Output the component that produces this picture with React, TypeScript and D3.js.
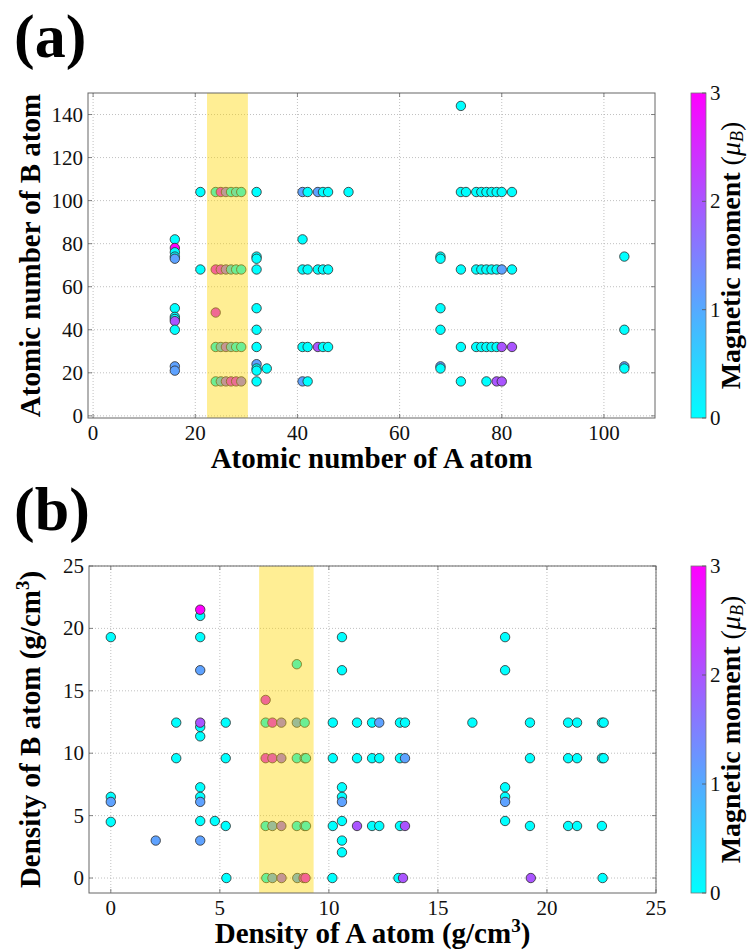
import * as d3 from 'd3'

const W = 748
const H = 951

// panel (a): [atomic number of A, atomic number of B, magnetic moment]
const atomicPoints: [number, number, number][] = [
  [16, 82, 0], [16, 78, 3.0], [16, 76, 0], [16, 74, 0.1], [16, 73, 1.1],
  [16, 50, 0], [16, 46, 0], [16, 45, 0], [16, 44, 2.0], [16, 40, 0],
  [16, 23, 1.1], [16, 21, 1.1],
  [21, 104, 0], [21, 68, 0],
  [24, 104, 0], [25, 104, 2.7], [26, 104, 1.7], [27, 104, 0], [28, 104, 0.3], [29, 104, 0],
  [24, 68, 2.8], [25, 68, 2.6], [26, 68, 1.8], [27, 68, 0.5], [28, 68, 0], [29, 68, 0],
  [24, 48, 2.7],
  [24, 32, 0], [25, 32, 0.8], [26, 32, 1.8], [27, 32, 0.7], [28, 32, 0], [29, 32, 0],
  [24, 16, 0], [25, 16, 0.8], [26, 16, 1.8], [27, 16, 2.6], [28, 16, 2.6], [29, 16, 1.7],
  [32, 104, 0], [32, 74, 0], [32, 73, 0], [32, 68, 0], [32, 50, 0], [32, 40, 0],
  [32, 32, 0], [32, 24, 1.1], [32, 22, 0], [32, 21, 0], [32, 16, 0], [34, 22, 0],
  [41, 104, 1.1], [42, 104, 0], [44, 104, 1.1], [45, 104, 0], [46, 104, 0], [50, 104, 0],
  [41, 82, 0],
  [41, 68, 0], [42, 68, 0], [44, 68, 0], [45, 68, 0], [46, 68, 0],
  [41, 32, 0], [42, 32, 0], [44, 32, 2.0], [45, 32, 0], [46, 32, 0],
  [41, 16, 1.1], [42, 16, 0],
  [68, 74, 0], [68, 73, 0], [68, 50, 0], [68, 40, 0], [68, 23, 1.1], [68, 22, 0],
  [72, 144, 0],
  [72, 104, 0], [73, 104, 0], [75, 104, 0], [76, 104, 0], [77, 104, 0], [78, 104, 0],
  [79, 104, 0], [80, 104, 0], [82, 104, 0],
  [72, 68, 0], [75, 68, 0], [76, 68, 0], [77, 68, 0], [78, 68, 0], [79, 68, 0],
  [80, 68, 1.1], [82, 68, 0],
  [72, 32, 0], [75, 32, 0], [76, 32, 0], [77, 32, 0], [78, 32, 0], [79, 32, 0],
  [80, 32, 2.0], [82, 32, 2.0],
  [72, 16, 0], [77, 16, 0], [79, 16, 2.0], [80, 16, 2.0],
  [104, 74, 0], [104, 40, 0], [104, 23, 1.1], [104, 22, 0],
]

// panel (b): [density of A, density of B, magnetic moment]
const densityPoints: [number, number, number][] = [
  [0, 19.3, 0], [0, 6.5, 0], [0, 6.1, 1.1], [0, 4.5, 0],
  [2.06, 3.0, 1.1],
  [3.0, 12.45, 0], [3.0, 9.6, 0],
  [4.1, 21.0, 0], [4.1, 21.5, 3.0], [4.1, 19.3, 0], [4.1, 16.65, 1.1], [4.1, 11.35, 0],
  [4.1, 12.1, 0], [4.1, 12.45, 2.0], [4.1, 7.27, 0], [4.1, 6.5, 0], [4.1, 6.1, 1.1],
  [4.1, 4.57, 0], [4.1, 3.0, 1.1],
  [4.77, 4.57, 0],
  [5.27, 12.45, 0], [5.27, 9.6, 0], [5.27, 4.17, 0], [5.3, 0, 0],
  [8.53, 17.13, 0], [7.1, 14.27, 2.7],
  [7.1, 12.45, 0], [7.41, 12.45, 2.7], [7.82, 12.45, 1.7], [8.53, 12.45, 1.0], [8.89, 12.45, 0],
  [7.1, 9.6, 2.7], [7.41, 9.6, 2.6], [7.82, 9.6, 1.8], [8.53, 9.6, 0], [8.89, 9.6, 0], [8.95, 9.6, 0],
  [7.1, 4.17, 0], [7.41, 4.17, 1.0], [7.82, 4.17, 1.8], [8.53, 4.17, 0], [8.89, 4.17, 0], [8.95, 4.17, 0],
  [7.13, 0, 0], [7.41, 0, 1.0], [7.83, 0, 1.8], [8.55, 0, 1.0], [8.84, 0, 2.6], [8.93, 0, 2.8],
  [10.18, 12.45, 0], [10.18, 9.6, 0], [10.18, 4.17, 0], [10.16, 0, 0],
  [10.6, 19.3, 0], [10.6, 16.65, 0], [10.6, 7.27, 0], [10.6, 6.5, 0], [10.6, 6.1, 1.1],
  [10.6, 4.57, 0], [10.6, 3.0, 0], [10.6, 2.06, 0],
  [11.29, 12.45, 0], [11.29, 9.6, 0], [11.29, 4.17, 2.0],
  [11.98, 12.45, 0], [11.98, 9.6, 0], [11.98, 4.17, 0],
  [12.31, 12.45, 1.1], [12.31, 9.6, 0], [12.31, 4.17, 0],
  [13.26, 12.45, 0], [13.26, 9.6, 0], [13.26, 4.17, 0], [13.19, 0, 0],
  [13.49, 12.45, 0], [13.49, 9.6, 1.1], [13.49, 4.17, 2.0], [13.4, 0, 2.0],
  [16.58, 12.45, 0],
  [18.08, 19.3, 0], [18.08, 16.65, 0], [18.08, 7.27, 0], [18.08, 6.5, 0], [18.08, 6.1, 1.1],
  [18.08, 4.57, 0],
  [19.22, 12.45, 0], [19.22, 9.6, 0], [19.22, 4.17, 0], [19.26, 0, 2.0],
  [20.97, 12.45, 0], [20.97, 9.6, 0], [20.97, 4.17, 0],
  [21.38, 12.45, 0], [21.38, 9.6, 0], [21.38, 4.17, 0],
  [22.52, 12.45, 0], [22.6, 12.45, 0], [22.52, 9.6, 0], [22.6, 9.6, 0], [22.52, 4.17, 0],
  [22.55, 0, 0],
]

const atomicXTicks = [0, 20, 40, 60, 80, 100]
const atomicYTicks = [0, 20, 40, 60, 80, 100, 120, 140]
const densityXTicks = [0, 5, 10, 15, 20, 25]
const densityYTicks = [0, 5, 10, 15, 20, 25]
const momentTicks = [0, 1, 2, 3]
const atomicBand = [22.3, 30.3]
const densityBand = [6.8, 9.3]

const serif = '"Liberation Serif", "Times New Roman", serif'
const color = d3.scaleLinear<string>().domain([0, 3]).range(['#00ffff', '#ff00ff']).clamp(true)

type PanelProps = {
  id: string
  tag: string
  top: number
  bottom: number
  left: number
  right: number
  xDomain: [number, number]
  yDomain: [number, number]
  xTicks: number[]
  yTicks: number[]
  points: [number, number, number][]
  band: number[]
  xLabel: React.ReactNode
  yLabel: React.ReactNode
}

function Panel(p: PanelProps) {
  const x = d3.scaleLinear().domain(p.xDomain).range([p.left, p.right])
  const y = d3.scaleLinear().domain(p.yDomain).range([p.bottom, p.top])
  const cy = (p.top + p.bottom) / 2
  const cx = (p.left + p.right) / 2
  const cbL = 691
  const cbR = 706
  const cb = d3.scaleLinear().domain([0, 3]).range([p.bottom, p.top])
  const tick = 4

  return (
    <g>
      <defs>
        <linearGradient id={`cb-${p.id}`} x1="0" y1="1" x2="0" y2="0">
          <stop offset="0%" stopColor={color(0)} />
          <stop offset="100%" stopColor={color(3)} />
        </linearGradient>
      </defs>
      <text x={14} y={p.top - 36} fontFamily={serif} fontWeight="bold" fontSize={62}>
        {p.tag}
      </text>

      {/* grid */}
      <g stroke="#b0b0b0" strokeWidth={0.8} strokeDasharray="1,2">
        {p.xTicks.map(t => (
          <line key={`gx${t}`} x1={x(t)} x2={x(t)} y1={p.top} y2={p.bottom} />
        ))}
        {p.yTicks.map(t => (
          <line key={`gy${t}`} x1={p.left} x2={p.right} y1={y(t)} y2={y(t)} />
        ))}
      </g>

      {/* points */}
      <g>
        {p.points.map((d, i) => (
          <circle key={i} cx={x(d[0])} cy={y(d[1])} r={4.7}
            fill={color(d[2])} stroke="#2a2a2a" strokeWidth={0.8} />
        ))}
      </g>

      {/* highlighted band over the points */}
      <rect x={x(p.band[0])} y={p.top} width={x(p.band[1]) - x(p.band[0])}
        height={p.bottom - p.top} fill="#ffd700" fillOpacity={0.42} />

      {/* frame + ticks */}
      <rect x={p.left} y={p.top} width={p.right - p.left} height={p.bottom - p.top}
        fill="none" stroke="#666" strokeWidth={1} />
      <g stroke="#666" strokeWidth={0.8}>
        {p.xTicks.map(t => (
          <g key={`tx${t}`}>
            <line x1={x(t)} x2={x(t)} y1={p.bottom} y2={p.bottom - tick} />
            <line x1={x(t)} x2={x(t)} y1={p.top} y2={p.top + tick} />
          </g>
        ))}
        {p.yTicks.map(t => (
          <g key={`ty${t}`}>
            <line x1={p.left} x2={p.left + tick} y1={y(t)} y2={y(t)} />
            <line x1={p.right} x2={p.right - tick} y1={y(t)} y2={y(t)} />
          </g>
        ))}
      </g>

      <g fontFamily={serif} fontSize={21} fill="#111">
        {p.xTicks.map(t => (
          <text key={`lx${t}`} x={x(t)} y={p.bottom + 22} textAnchor="middle">{t}</text>
        ))}
        {p.yTicks.map(t => (
          <text key={`ly${t}`} x={p.left - 5} y={y(t) + 7} textAnchor="end">{t}</text>
        ))}
      </g>

      <text x={cx} y={p.bottom + 50} textAnchor="middle" fontFamily={serif}
        fontWeight="bold" fontSize={29}>{p.xLabel}</text>
      <text transform={`translate(40,${cy}) rotate(-90)`} textAnchor="middle"
        fontFamily={serif} fontWeight="bold" fontSize={29}>{p.yLabel}</text>

      {/* colorbar */}
      <rect x={cbL} y={p.top} width={cbR - cbL} height={p.bottom - p.top}
        fill={`url(#cb-${p.id})`} stroke="#777" strokeWidth={0.8} />
      <g stroke="#555" strokeWidth={0.8}>
        {momentTicks.map(t => (
          <line key={`cbt${t}`} x1={cbR - tick} x2={cbR} y1={cb(t)} y2={cb(t)} />
        ))}
      </g>
      <g fontFamily={serif} fontSize={21} fill="#111">
        {momentTicks.map(t => (
          <text key={`cbl${t}`} x={cbR + 4} y={cb(t) + 7}>{t}</text>
        ))}
      </g>
      <text transform={`translate(740,${cy}) rotate(-90)`} textAnchor="middle"
        fontFamily={serif} fontSize={28}>
        <tspan fontWeight="bold">Magnetic moment </tspan>
        <tspan>(</tspan>
        <tspan fontStyle="italic">μ</tspan>
        <tspan fontStyle="italic" fontSize={18} dy={3}>B</tspan>
        <tspan dy={-3}>)</tspan>
      </text>
    </g>
  )
}

const densityUnit = (
  <>
    <tspan>(g/cm</tspan>
    <tspan fontSize={19} dy={-11}>3</tspan>
    <tspan dy={11}>)</tspan>
  </>
)

export default function App() {
  return (
    <svg width={W} height={H} viewBox={`0 0 ${W} ${H}`}
      style={{ position: 'absolute', left: 0, top: 0, background: '#fff' }}>
      <Panel id="a" tag="(a)" top={93} bottom={418} left={88} right={655}
        xDomain={[-1, 110]} yDomain={[-1, 150]}
        xTicks={atomicXTicks} yTicks={atomicYTicks}
        points={atomicPoints} band={atomicBand}
        xLabel="Atomic number of A atom" yLabel="Atomic number of B atom" />
      <Panel id="b" tag="(b)" top={566} bottom={893} left={89} right={656}
        xDomain={[-1, 25]} yDomain={[-1.2, 25]}
        xTicks={densityXTicks} yTicks={densityYTicks}
        points={densityPoints} band={densityBand}
        xLabel={<><tspan>Density of A atom </tspan>{densityUnit}</>}
        yLabel={<><tspan>Density of B atom </tspan>{densityUnit}</>} />
    </svg>
  )
}
